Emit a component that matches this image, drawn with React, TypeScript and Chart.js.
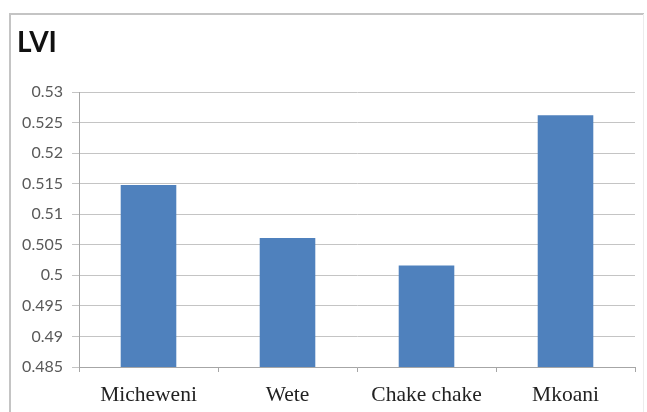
import React, { useEffect, useRef } from "react";
import { Chart, registerables } from "chart.js";

Chart.register(...registerables);

const categories = ["Micheweni", "Wete", "Chake chake", "Mkoani"];
const lviValues = [0.5148, 0.5061, 0.5016, 0.5262];
const yMin = 0.485;
const yMax = 0.53;
const yStep = 0.005;
const chartTitle = "LVI";

const framePlugin = {
  id: "frame",
  beforeDraw(chart: any) {
    const ctx = chart.ctx;
    ctx.save();
    ctx.fillStyle = "#ffffff";
    ctx.fillRect(0, 0, chart.width, chart.height);
    ctx.strokeStyle = "#c4c4c4";
    ctx.lineWidth = 2;
    ctx.beginPath();
    ctx.moveTo(10, 412);
    ctx.lineTo(10, 14);
    ctx.lineTo(644, 14);
    ctx.stroke();
    ctx.strokeStyle = "#ececec";
    ctx.lineWidth = 1;
    ctx.beginPath();
    ctx.moveTo(643.5, 14);
    ctx.lineTo(643.5, 412);
    ctx.stroke();
    ctx.restore();
  },
  afterDraw(chart: any) {
    const ctx = chart.ctx;
    ctx.save();
    ctx.fillStyle = "#111111";
    ctx.font = "bold 28px Lato";
    ctx.textBaseline = "alphabetic";
    ctx.textAlign = "left";
    ctx.fillText(chartTitle, 17, 52);
    ctx.restore();
  },
};

export default function App() {
  const ref = useRef<HTMLCanvasElement | null>(null);
  useEffect(() => {
    if (!ref.current) return;
    const chart = new Chart(ref.current, {
      type: "bar",
      data: {
        labels: categories,
        datasets: [
          {
            label: chartTitle,
            data: lviValues,
            backgroundColor: "#4f81bd",
            borderWidth: 0,
            barPercentage: 0.4,
            categoryPercentage: 1,
          },
        ],
      },
      options: {
        responsive: false,
        animation: false,
        layout: { padding: { top: 92, right: 12, left: 0, bottom: 0 } },
        plugins: { legend: { display: false }, tooltip: { enabled: false }, title: { display: false } },
        scales: {
          x: {
            afterFit(scale: any) {
              scale.height = 45;
            },
            grid: {
              offset: true,
              drawOnChartArea: false,
              drawTicks: true,
              tickLength: 5,
              color: "#a6a6a6",
            },
            border: { color: "#a6a6a6", width: 1 },
            ticks: {
              color: "#222222",
              font: { family: "Liberation Serif", size: 21.5 },
              padding: 10,
              maxRotation: 0,
            },
          },
          y: {
            min: yMin,
            max: yMax,
            afterFit(scale: any) {
              scale.width = 79;
            },
            grid: {
              color: "#c4c4c4",
              drawTicks: true,
              tickLength: 7,
            },
            border: { color: "#a6a6a6", width: 1 },
            ticks: {
              stepSize: yStep,
              color: "#595959",
              font: { family: "Lato", size: 16 },
              padding: 9,
              callback: (v: any) => String(parseFloat(Number(v).toFixed(3))),
            },
          },
        },
      },
      plugins: [framePlugin],
    });
    return () => chart.destroy();
  }, []);
  return (
    <div style={{ position: "absolute", left: 0, top: 0, width: 647, height: 412, background: "#fff" }}>
      <canvas ref={ref} width={647} height={412} style={{ display: "block" }} />
    </div>
  );
}
